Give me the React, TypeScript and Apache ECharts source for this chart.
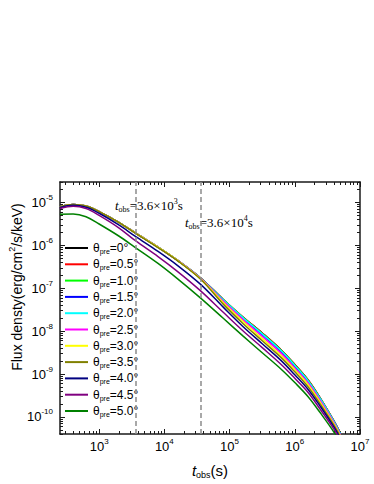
import React, { useEffect, useRef } from 'react';
import * as echarts from 'echarts';

// observation times (s)
const tObs = [250, 400, 630, 1000, 2000, 3600, 8000, 16000, 36000, 80000, 160000, 320000, 630000, 1000000, 1600000, 2500000, 4000000, 5000000];

// log10 of flux density (erg/cm^2/s/keV) for each precession angle
const logFluxTheta00 = [-5.10, -5.045, -5.08, -5.21, -5.46, -5.71, -6.04, -6.35, -6.76, -7.26, -7.67, -8.05, -8.45, -8.78, -9.14, -9.58, -10.10, -10.38];
const logFluxTheta05 = [-5.10, -5.045, -5.08, -5.21, -5.46, -5.71, -6.04, -6.35, -6.76, -7.26, -7.67, -8.05, -8.45, -8.78, -9.14, -9.58, -10.10, -10.38];
const logFluxTheta10 = [-5.10, -5.045, -5.08, -5.21, -5.46, -5.71, -6.04, -6.35, -6.76, -7.265, -7.68, -8.06, -8.46, -8.79, -9.15, -9.59, -10.11, -10.39];
const logFluxTheta15 = [-5.10, -5.045, -5.08, -5.21, -5.46, -5.71, -6.04, -6.35, -6.77, -7.28, -7.70, -8.09, -8.49, -8.82, -9.175, -9.61, -10.12, -10.40];
const logFluxTheta20 = [-5.10, -5.045, -5.08, -5.21, -5.46, -5.71, -6.04, -6.35, -6.765, -7.27, -7.685, -8.07, -8.47, -8.80, -9.16, -9.595, -10.11, -10.39];
const logFluxTheta25 = [-5.10, -5.045, -5.08, -5.21, -5.46, -5.71, -6.04, -6.35, -6.77, -7.30, -7.73, -8.13, -8.53, -8.86, -9.21, -9.64, -10.14, -10.42];
const logFluxTheta30 = [-5.10, -5.045, -5.08, -5.21, -5.46, -5.71, -6.04, -6.35, -6.78, -7.33, -7.77, -8.18, -8.58, -8.90, -9.25, -9.68, -10.17, -10.44];
const logFluxTheta35 = [-5.10, -5.045, -5.08, -5.21, -5.46, -5.715, -6.05, -6.36, -6.79, -7.37, -7.82, -8.23, -8.63, -8.95, -9.30, -9.72, -10.20, -10.47];
const logFluxTheta40 = [-5.12, -5.065, -5.11, -5.25, -5.52, -5.79, -6.14, -6.47, -6.91, -7.44, -7.89, -8.30, -8.70, -9.02, -9.36, -9.77, -10.24, -10.50];
const logFluxTheta45 = [-5.14, -5.085, -5.14, -5.30, -5.59, -5.89, -6.26, -6.61, -7.06, -7.56, -7.99, -8.39, -8.79, -9.10, -9.43, -9.84, -10.29, -10.55];
const logFluxTheta50 = [-5.27, -5.265, -5.33, -5.50, -5.78, -6.05, -6.42, -6.78, -7.23, -7.70, -8.11, -8.51, -8.90, -9.20, -9.53, -9.92, -10.36, -10.62];

const thetaLabels = ['0', '0.5', '1.0', '1.5', '2.0', '2.5', '3.0', '3.5', '4.0', '4.5', '5.0'];
const seriesColors = ['#000000', '#ff0000', '#00ff00', '#0000ff', '#00ffff', '#ff00ff', '#ffff00', '#808000', '#000080', '#800080', '#008000'];
const fluxSeries = [logFluxTheta00, logFluxTheta05, logFluxTheta10, logFluxTheta15, logFluxTheta20, logFluxTheta25, logFluxTheta30, logFluxTheta35, logFluxTheta40, logFluxTheta45, logFluxTheta50];

// decade exponents for tick labels
const xMajorTicks = [3, 4, 5, 6, 7];
const yMajorTicks = [-10, -9, -8, -7, -6, -5];
// marked observation times (s)
const markTimes = [3600, 36000];

const X_MIN = 2.4;
const X_MAX = 7;
const Y_MIN = -10.4;
const Y_MAX = -4.52;

const minorX: number[] = [];
for (let n = 2; n <= 6; n++) {
  for (let k = 2; k <= 9; k++) {
    const v = n + Math.log10(k);
    if (v > X_MIN && v < X_MAX) minorX.push(v);
  }
}
const minorY: number[] = [];
for (let n = -11; n <= -5; n++) {
  for (let k = 2; k <= 9; k++) {
    const v = n + Math.log10(k);
    if (v > Y_MIN && v < Y_MAX) minorY.push(v);
  }
}

const SANS = 'Liberation Sans, Arial, sans-serif';
const SERIF = 'Liberation Serif, Times New Roman, serif';
const FRAME = '#1a1a1a';

const tickLabelRich = {
  b: { fontSize: 13, lineHeight: 18, fontFamily: SANS, color: '#000' },
  s: { fontSize: 8, lineHeight: 10, verticalAlign: 'top', fontFamily: SANS, color: '#000' },
};

function makeAxis(dim: 'x' | 'y', position: string, ticks: number[], len: number, showLine: boolean, labels: boolean): any {
  return {
    type: 'value',
    position,
    min: dim === 'x' ? X_MIN : Y_MIN,
    max: dim === 'x' ? X_MAX : Y_MAX,
    axisLine: { show: showLine, onZero: false, lineStyle: { color: FRAME, width: 1.5 } },
    axisTick: { show: true, inside: true, length: len, customValues: ticks, lineStyle: { color: FRAME, width: 1 } },
    axisLabel: labels
      ? {
          show: true,
          customValues: ticks,
          margin: dim === 'x' ? 3 : 7,
          formatter: (v: number) => `{b|10}{s|${Math.round(v)}}`,
          rich: tickLabelRich,
        }
      : { show: false },
    splitLine: { show: false },
  };
}

export default function App() {
  const ref = useRef<HTMLDivElement>(null);
  useEffect(() => {
    const chart = echarts.init(ref.current!, null, { renderer: 'svg' });
    const option: any = {
      animation: false,
      backgroundColor: '#ffffff',
      grid: { left: 60, top: 182, right: 14, bottom: 50, containLabel: false },
      xAxis: [
        makeAxis('x', 'bottom', xMajorTicks, 5, true, true),
        makeAxis('x', 'bottom', minorX, 3, false, false),
        makeAxis('x', 'top', xMajorTicks, 5, true, false),
        makeAxis('x', 'top', minorX, 3, false, false),
      ],
      yAxis: [
        makeAxis('y', 'left', yMajorTicks, 5, true, true),
        makeAxis('y', 'left', minorY, 3, false, false),
        makeAxis('y', 'right', yMajorTicks, 5, true, false),
        makeAxis('y', 'right', minorY, 3, false, false),
      ],
      legend: {
        orient: 'vertical',
        left: 65,
        top: 242,
        padding: 0,
        itemGap: 3.3,
        itemWidth: 23,
        itemHeight: 2,
        icon: 'rect',
        selectedMode: false,
        data: thetaLabels,
        formatter: (name: string) => `{t|θ}{s|pre}{t|=${name}°}`,
        textStyle: {
          color: '#000',
          fontFamily: SANS,
          fontSize: 12,
          rich: {
            t: { fontSize: 12, lineHeight: 14, fontFamily: SANS, color: '#000' },
            s: { fontSize: 7, lineHeight: 7, verticalAlign: 'bottom', fontFamily: SANS, color: '#000' },
          },
        },
      },
      series: fluxSeries.map((arr, i) => ({
        name: thetaLabels[i],
        type: 'line',
        xAxisIndex: 0,
        yAxisIndex: 0,
        data: tObs.map((t, j) => [Math.log10(t), arr[j]]),
        showSymbol: false,
        symbol: 'none',
        smooth: 0.35,
        lineStyle: { width: 1.5, color: seriesColors[i] },
        itemStyle: { color: seriesColors[i] },
        ...(i === 0
          ? {
              markLine: {
                silent: true,
                symbol: ['none', 'none'],
                label: { show: false },
                lineStyle: { type: [5, 3], color: '#8c8c8c', width: 1.5 },
                data: markTimes.map((t) => ({ xAxis: Math.log10(t) })),
              },
            }
          : {}),
      })),
      graphic: [
        {
          type: 'text',
          x: 17,
          y: 287,
          rotation: Math.PI / 2,
          style: {
            text: '{n|Flux densty(erg/cm}{sp|2}{n|/s/keV)}',
            align: 'center',
            verticalAlign: 'middle',
            rich: {
              n: { fontSize: 14, lineHeight: 19, fontFamily: SANS, fill: '#000' },
              sp: { fontSize: 9, lineHeight: 11, verticalAlign: 'top', fontFamily: SANS, fill: '#000' },
            },
          },
        },
        {
          type: 'text',
          x: 210,
          y: 470,
          style: {
            text: '{ti|t}{sb|obs}{n|(s)}',
            align: 'center',
            verticalAlign: 'middle',
            rich: {
              ti: { fontSize: 15, lineHeight: 18, fontStyle: 'italic', fontFamily: SANS, fill: '#000' },
              sb: { fontSize: 9, lineHeight: 9, verticalAlign: 'bottom', fontFamily: SANS, fill: '#000' },
              n: { fontSize: 15, lineHeight: 18, fontFamily: SANS, fill: '#000' },
            },
          },
        },
        ...[
          { x: 115, y: 205, exp: '3' },
          { x: 185, y: 222, exp: '4' },
        ].map((a) => ({
          type: 'text',
          x: a.x,
          y: a.y,
          style: {
            text: `{ti|t}{sb|obs}{n|=3.6×10}{sp|${a.exp}}{n|s}`,
            align: 'left',
            verticalAlign: 'middle',
            rich: {
              ti: { fontSize: 13, lineHeight: 16, fontStyle: 'italic', fontFamily: SERIF, fill: '#000' },
              sb: { fontSize: 8, lineHeight: 8, verticalAlign: 'bottom', fontFamily: SERIF, fill: '#000' },
              n: { fontSize: 13, lineHeight: 16, fontFamily: SERIF, fill: '#000' },
              sp: { fontSize: 8, lineHeight: 9, verticalAlign: 'top', fontFamily: SERIF, fill: '#000' },
            },
          },
        })),
      ],
    };
    chart.setOption(option);
    return () => chart.dispose();
  }, []);
  return <div ref={ref} style={{ position: 'fixed', left: 0, top: 0, width: 374, height: 484, background: '#fff' }} />;
}
